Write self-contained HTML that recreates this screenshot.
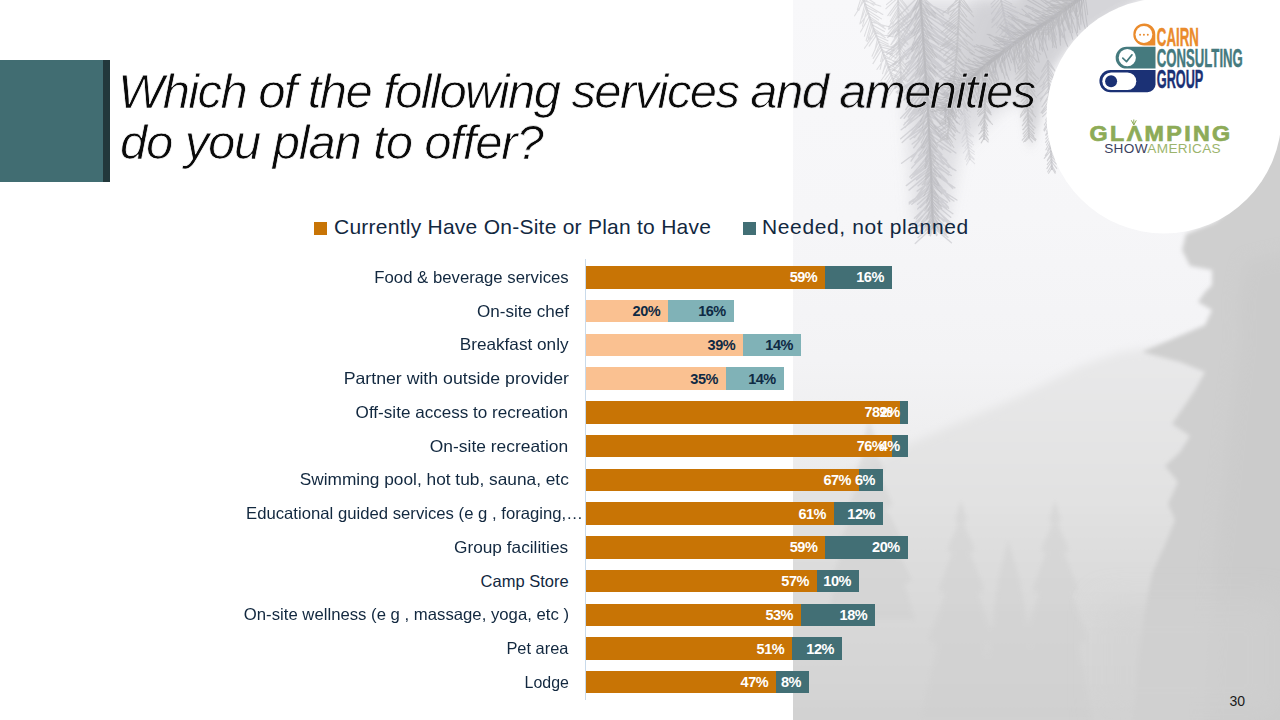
<!DOCTYPE html>
<html><head><meta charset="utf-8"><title>Services and amenities</title>
<style>
html,body{margin:0;padding:0}
body{width:1280px;height:720px;position:relative;overflow:hidden;background:#fff;font-family:"Liberation Sans",sans-serif}
#bg{position:absolute;left:793px;top:0;width:487px;height:720px;overflow:hidden}
#tblock{position:absolute;left:0;top:60px;width:103px;height:122px;background:#416D72}
#tstrip{position:absolute;left:103px;top:60px;width:7px;height:122px;background:#22383B}
.title{position:absolute;left:118px;font-style:italic;font-size:49px;line-height:60px;color:#0A0A0A;white-space:nowrap;letter-spacing:-1.6px;-webkit-text-stroke:0.75px #fff}
.bar{position:absolute;height:22.4px}
.lab{position:absolute;transform-origin:100% 50%;font-size:16.5px;line-height:20px;color:#12283F;white-space:nowrap;text-align:right}
.dl{position:absolute;width:60px;text-align:right;font-weight:bold;font-size:14.5px;line-height:16px;white-space:nowrap;letter-spacing:-0.5px}
#axis{position:absolute;left:585px;top:259px;width:1px;height:441px;background:#C9DAEA}
.leg{position:absolute;font-size:21px;line-height:26px;color:#12283F;white-space:nowrap;letter-spacing:0.25px}
.sq{position:absolute;width:13px;height:13px}
#pn{position:absolute;left:1229.5px;top:692.65px;font-size:14px;line-height:16px;color:#1a1a1a}
</style></head><body>
<div id="bg"><svg style="position:absolute;left:0;top:0" width="487" height="720" viewBox="793 0 487 720">
<defs>
<linearGradient id="gv" x1="0" y1="0" x2="0" y2="720" gradientUnits="userSpaceOnUse">
<stop offset="0" stop-color="#F8F8FA"/>
<stop offset="0.30" stop-color="#F6F6F8"/>
<stop offset="0.50" stop-color="#F3F3F5"/>
<stop offset="0.62" stop-color="#EEEEEF"/>
<stop offset="0.75" stop-color="#E4E4E4"/>
<stop offset="0.88" stop-color="#DADADA"/>
<stop offset="1" stop-color="#D3D3D3"/>
</linearGradient>
<linearGradient id="gm" x1="0" y1="340" x2="0" y2="720" gradientUnits="userSpaceOnUse">
<stop offset="0" stop-color="#E9E9EA"/>
<stop offset="0.45" stop-color="#E1E1E1"/>
<stop offset="0.7" stop-color="#D9D9D9"/>
<stop offset="1" stop-color="#D2D2D2"/>
</linearGradient>
<filter id="b8" x="-50%" y="-50%" width="200%" height="200%"><feGaussianBlur stdDeviation="8"/></filter>
<filter id="b5" x="-50%" y="-50%" width="200%" height="200%"><feGaussianBlur stdDeviation="5"/></filter>
<filter id="b2" x="-20%" y="-20%" width="140%" height="140%"><feGaussianBlur stdDeviation="2"/></filter>
<filter id="b1" x="-20%" y="-20%" width="140%" height="140%"><feGaussianBlur stdDeviation="0.6"/></filter>
<filter id="b15" x="-50%" y="-50%" width="200%" height="200%"><feGaussianBlur stdDeviation="15"/></filter>
</defs>
<rect x="793" y="0" width="487" height="720" fill="url(#gv)"/>
<!-- mountain haze -->
<path d="M780 492 L850 472 L900 448 L960 422 L1020 396 L1080 366 L1120 352 L1160 346 L1230 356 L1230 730 L780 730 Z" fill="url(#gm)" filter="url(#b5)"/>
<!-- mid trees -->
<g fill="#CFCFCF" filter="url(#b2)" opacity="0.45">
<path d="M869 420 L876 440 L873 445 L884 470 L879 474 L893 505 L886 508 L902 540 L894 544 L912 580 L905 585 L915 620 L825 620 L836 585 L830 580 L846 544 L840 540 L855 508 L849 505 L862 474 L857 470 L866 445 L863 440 Z"/>
<path d="M961 500 L967 520 L964 524 L975 550 L970 553 L985 590 L978 594 L995 640 L985 645 L1000 720 L920 720 L937 645 L928 640 L945 594 L938 590 L952 553 L947 550 L958 524 L955 520 Z"/>
<path d="M1055 500 L1061 520 L1058 524 L1069 550 L1064 553 L1079 590 L1072 594 L1089 640 L1079 645 L1094 720 L1014 720 L1031 645 L1022 640 L1039 594 L1032 590 L1046 553 L1041 550 L1052 524 L1049 520 Z"/>
<path d="M1008 540 L1020 580 L1030 640 L1040 720 L975 720 L990 640 L998 580 Z"/>
</g>
<!-- big right tree -->
<path d="M1300 90 L1280 110 L1266 150 L1245 195 L1215 222 L1186 234 L1182 250 L1190 266 L1212 270 L1212 285 L1205 292 L1198 302 L1212 310 L1205 325 L1170 340 L1142 352 L1180 362 L1205 372 L1195 390 L1185 405 L1172 424 L1190 436 L1180 452 L1165 466 L1178 482 L1168 504 L1175 520 L1165 545 L1158 560 L1152 574 L1145 610 L1138 660 L1132 740 L1300 740 Z" fill="#CFCFCF" filter="url(#b2)"/>
<path d="M1300 250 L1245 262 L1238 300 L1240 340 L1232 400 L1225 470 L1215 560 L1205 740 L1300 740 Z" fill="#C8C8C8" opacity="0.5" filter="url(#b8)"/>
<rect x="1100" y="600" width="180" height="120" fill="#D2D2D2" opacity="0.5" filter="url(#b15)"/>
<!-- top dense mass -->
<g fill="#DCDCE0" filter="url(#b8)" opacity="0.9">
<path d="M900 0 L1085 0 L1060 40 L1040 90 L1000 110 L960 150 L945 225 L915 225 L905 100 Z"/>
</g>
<g fill="#CFCFD3" filter="url(#b8)" opacity="0.8">
<path d="M975 0 L1085 0 L1060 30 L1030 60 L990 90 L960 110 L955 60 Z"/>
</g>
<path d="M1020 -10 L1160 -10 L1120 12 L1080 35 L1050 70 L1040 120 L1030 150 L1015 60 Z" fill="#D2D2D6" filter="url(#b5)" opacity="0.9"/>
<g filter="url(#b1)">
<path d="M920.0 -5.0 L924.0 50.0 L928.0 110.0 L931.0 170.0 L933.0 228.0" stroke="#C0C0C4" stroke-width="2.0" fill="none" opacity="0.55"/>
<path d="M920.0 -5.0 l-22.0 22.1 M920.0 -5.0 l23.6 20.5 M920.2 -2.5 l-22.4 34.0 M920.2 -2.5 l26.5 31.0 M920.4 0.2 l-19.1 24.9 M920.4 0.2 l28.2 13.7 M920.6 2.6 l-31.2 33.2 M920.6 2.6 l37.5 25.8 M920.7 4.6 l-32.1 24.5 M920.7 4.6 l32.1 24.5 M920.9 7.3 l-22.6 34.3 M920.9 7.3 l35.0 21.5 M921.1 9.7 l-17.1 26.8 M921.1 9.7 l27.8 15.5 M921.2 12.1 l-33.4 25.2 M921.2 12.1 l35.2 22.6 M921.4 14.9 l-26.2 21.2 M921.4 14.9 l26.1 21.3 M921.7 17.7 l-25.4 37.3 M921.7 17.7 l31.0 32.8 M921.8 19.8 l-31.6 34.8 M921.8 19.8 l38.6 26.8 M922.0 22.0 l-23.6 27.0 M922.0 22.0 l26.9 23.7 M922.1 24.5 l-30.2 22.3 M922.1 24.5 l31.3 20.7 M922.4 27.3 l-36.1 24.7 M922.4 27.3 l36.3 24.3 M922.5 29.4 l-35.7 25.0 M922.5 29.4 l38.4 20.5 M922.7 31.9 l-24.0 31.9 M922.7 31.9 l34.6 19.9 M922.9 34.3 l-16.4 24.9 M922.9 34.3 l26.0 14.6 M923.1 37.2 l-19.5 15.8 M923.1 37.2 l19.2 16.1 M923.2 39.2 l-22.8 18.9 M923.2 39.2 l26.0 14.3 M923.4 41.2 l-20.0 30.9 M923.4 41.2 l31.0 19.8 M923.5 43.4 l-35.1 24.3 M923.5 43.4 l33.8 26.1 M923.7 46.3 l-16.4 24.6 M923.7 46.3 l24.1 17.1 M923.9 48.2 l-17.9 20.1 M923.9 48.2 l22.0 15.5 M924.0 50.3 l-18.6 14.0 M924.0 50.3 l17.1 15.8 M924.2 53.1 l-27.8 31.7 M924.2 53.1 l32.7 26.6 M924.4 55.6 l-26.3 25.0 M924.4 55.6 l29.1 21.7 M924.5 58.1 l-29.8 30.5 M924.5 58.1 l32.7 27.3 M924.7 60.7 l-17.1 20.9 M924.7 60.7 l24.1 12.1 M924.9 63.1 l-18.0 28.3 M924.9 63.1 l25.6 21.7 M925.0 65.6 l-16.1 15.0 M925.0 65.6 l18.0 12.6 M925.2 67.5 l-24.0 25.4 M925.2 67.5 l29.0 19.5 M925.3 69.8 l-27.9 23.5 M925.3 69.8 l23.6 27.8 M925.5 71.8 l-29.3 20.3 M925.5 71.8 l25.5 24.8 M925.6 74.1 l-21.6 25.8 M925.6 74.1 l25.2 22.3 M925.8 76.3 l-20.9 19.8 M925.8 76.3 l21.0 19.6 M925.9 78.6 l-20.1 31.1 M925.9 78.6 l29.8 22.0 M926.1 81.2 l-16.6 21.6 M926.1 81.2 l23.3 14.0 M926.2 83.4 l-16.6 18.0 M926.2 83.4 l20.5 13.5 M926.4 85.4 l-17.5 20.7 M926.4 85.4 l23.5 13.7 M926.5 87.7 l-22.4 30.6 M926.5 87.7 l28.1 25.4 M926.7 90.3 l-26.1 28.0 M926.7 90.3 l27.1 26.9 M926.8 92.3 l-18.5 24.7 M926.8 92.3 l26.5 15.8 M927.0 95.0 l-14.9 18.5 M927.0 95.0 l20.4 12.2 M927.2 97.5 l-23.3 27.4 M927.2 97.5 l24.5 26.3 M927.3 99.7 l-22.2 27.7 M927.3 99.7 l26.5 23.7 M927.5 102.0 l-18.7 20.8 M927.5 102.0 l24.7 13.2 M927.6 104.1 l-16.1 11.3 M927.6 104.1 l17.2 9.6 M927.8 107.0 l-22.8 16.0 M927.8 107.0 l24.6 13.1 M927.9 109.1 l-26.7 20.6 M927.9 109.1 l27.9 19.0 M928.1 111.5 l-16.3 18.6 M928.1 111.5 l17.3 17.7 M928.2 113.5 l-19.5 23.2 M928.2 113.5 l25.8 15.9 M928.3 115.5 l-27.6 23.3 M928.3 115.5 l31.6 17.5 M928.4 118.2 l-26.2 24.4 M928.4 118.2 l22.6 27.8 M928.5 120.9 l-14.2 16.7 M928.5 120.9 l17.9 12.6 M928.7 123.3 l-21.7 14.8 M928.7 123.3 l21.1 15.6 M928.8 125.5 l-18.7 13.7 M928.8 125.5 l17.8 14.8 M928.9 128.2 l-15.2 19.6 M928.9 128.2 l19.5 15.4 M929.0 130.9 l-16.8 13.1 M929.0 130.9 l18.6 10.3 M929.2 133.6 l-18.1 27.5 M929.2 133.6 l26.6 19.4 M929.3 136.3 l-12.0 14.5 M929.3 136.3 l13.4 13.2 M929.4 138.8 l-17.7 18.1 M929.4 138.8 l21.4 13.6 M929.5 140.7 l-11.0 15.1 M929.5 140.7 l12.5 13.9 M929.6 142.7 l-28.0 20.6 M929.6 142.7 l22.8 26.2 M929.8 145.1 l-15.0 17.4 M929.8 145.1 l16.9 15.6 M929.9 147.6 l-18.3 20.5 M929.9 147.6 l18.9 20.0 M930.0 149.8 l-14.0 13.3 M930.0 149.8 l16.1 10.8 M930.1 152.1 l-11.2 14.7 M930.1 152.1 l13.7 12.4 M930.2 154.6 l-20.4 22.4 M930.2 154.6 l25.7 16.0 M930.4 157.1 l-16.2 17.9 M930.4 157.1 l18.7 15.3 M930.5 159.7 l-18.1 15.3 M930.5 159.7 l18.2 15.3 M930.6 161.9 l-19.5 16.5 M930.6 161.9 l16.6 19.4 M930.7 164.2 l-19.1 13.7 M930.7 164.2 l20.6 11.3 M930.8 166.5 l-24.5 19.1 M930.8 166.5 l22.0 21.9 M930.9 168.8 l-14.5 11.1 M930.9 168.8 l14.9 10.5 M931.1 171.6 l-22.1 18.5 M931.1 171.6 l23.8 16.3 M931.1 174.1 l-13.1 11.8 M931.1 174.1 l10.9 13.9 M931.2 176.1 l-16.2 23.0 M931.2 176.1 l18.2 21.5 M931.3 178.1 l-18.4 23.3 M931.3 178.1 l18.5 23.2 M931.4 180.9 l-14.2 10.2 M931.4 180.9 l14.2 10.3 M931.5 183.6 l-22.4 20.3 M931.5 183.6 l25.4 16.4 M931.5 185.5 l-19.7 18.8 M931.5 185.5 l22.3 15.5 M931.6 187.6 l-22.3 14.8 M931.6 187.6 l17.0 20.6 M931.7 189.8 l-19.2 14.0 M931.7 189.8 l16.4 17.1 M931.8 191.9 l-14.2 12.4 M931.8 191.9 l15.6 10.5 M931.8 194.2 l-14.1 14.8 M931.8 194.2 l14.8 14.1 M931.9 196.5 l-11.6 11.1 M931.9 196.5 l14.1 7.7 M932.0 198.8 l-15.8 20.3 M932.0 198.8 l20.9 14.9 M932.1 201.5 l-17.7 16.8 M932.1 201.5 l18.6 15.8 M932.2 204.0 l-16.7 21.7 M932.2 204.0 l17.7 20.9 M932.3 206.6 l-19.9 18.9 M932.3 206.6 l20.6 18.1 M932.4 209.2 l-10.9 12.8 M932.4 209.2 l11.4 12.3 M932.4 211.7 l-11.8 14.2 M932.4 211.7 l15.0 10.7 M932.5 214.6 l-14.0 11.3 M932.5 214.6 l13.4 12.1 M932.6 217.3 l-14.1 16.6 M932.6 217.3 l14.9 15.9 M932.7 219.2 l-13.8 14.7 M932.7 219.2 l13.5 15.0 M932.8 221.5 l-14.2 10.9 M932.8 221.5 l11.8 13.4 M932.9 224.4 l-14.8 13.2 M932.9 224.4 l15.0 12.9 M933.0 227.1 l-17.8 16.3 M933.0 227.1 l18.4 15.7" stroke="#C0C0C4" stroke-width="1.4" fill="none" opacity="0.55" stroke-linecap="round"/>
<path d="M920.0 -5.0 L924.0 50.0 L928.0 110.0 L931.0 170.0 L933.0 228.0" stroke="#B8B8BC" stroke-width="2.0" fill="none" opacity="0.5"/>
<path d="M920.0 -5.0 l-9.8 22.5 M920.0 -5.0 l15.7 18.8 M920.3 -1.5 l-6.4 18.1 M920.3 -1.5 l9.0 17.0 M920.5 1.8 l-13.1 17.5 M920.5 1.8 l14.8 16.0 M920.7 4.5 l-5.3 14.5 M920.7 4.5 l6.9 13.8 M920.9 7.7 l-13.9 19.5 M920.9 7.7 l11.3 21.1 M921.2 11.1 l-6.8 15.3 M921.2 11.1 l10.7 12.9 M921.4 13.6 l-7.7 11.5 M921.4 13.6 l6.8 12.1 M921.6 16.5 l-10.0 17.3 M921.6 16.5 l7.6 18.5 M921.8 19.3 l-7.8 16.3 M921.8 19.3 l8.3 16.1 M922.0 22.4 l-9.6 22.5 M922.0 22.4 l14.1 20.0 M922.2 24.9 l-7.9 13.7 M922.2 24.9 l6.7 14.4 M922.4 28.3 l-6.6 22.6 M922.4 28.3 l16.6 16.7 M922.6 31.2 l-11.5 18.4 M922.6 31.2 l10.6 19.0 M922.9 34.4 l-11.0 16.9 M922.9 34.4 l9.6 17.7 M923.1 37.7 l-11.9 20.6 M923.1 37.7 l13.6 19.4 M923.3 40.2 l-6.8 16.6 M923.3 40.2 l11.4 13.9 M923.5 43.4 l-5.8 17.8 M923.5 43.4 l11.4 14.8 M923.8 46.6 l-8.1 11.4 M923.8 46.6 l8.6 11.0 M923.9 49.1 l-6.8 21.8 M923.9 49.1 l11.4 19.7 M924.2 52.4 l-8.6 16.6 M924.2 52.4 l11.4 14.9 M924.4 55.3 l-4.8 14.5 M924.4 55.3 l6.1 14.0 M924.6 58.6 l-9.3 18.0 M924.6 58.6 l12.9 15.6 M924.8 61.4 l-5.8 13.3 M924.8 61.4 l9.9 10.7 M924.9 63.8 l-5.9 16.1 M924.9 63.8 l11.1 13.1 M925.1 66.6 l-6.1 13.8 M925.1 66.6 l8.6 12.4 M925.3 70.0 l-8.6 12.6 M925.3 70.0 l6.3 13.9 M925.5 72.7 l-3.6 11.8 M925.5 72.7 l8.0 9.4 M925.7 76.0 l-4.2 12.5 M925.7 76.0 l6.9 11.2 M925.9 79.2 l-10.7 17.0 M925.9 79.2 l11.8 16.2 M926.1 81.8 l-4.9 14.5 M926.1 81.8 l8.7 12.6 M926.3 84.9 l-4.5 12.3 M926.3 84.9 l8.5 9.9 M926.5 87.3 l-11.4 15.9 M926.5 87.3 l13.7 13.9 M926.7 90.2 l-7.9 14.7 M926.7 90.2 l10.0 13.3 M926.9 93.7 l-6.5 16.7 M926.9 93.7 l12.1 13.3 M927.1 96.7 l-8.9 14.4 M927.1 96.7 l6.3 15.7 M927.3 100.0 l-7.6 15.7 M927.3 100.0 l9.8 14.4 M927.5 103.0 l-5.6 11.1 M927.5 103.0 l4.8 11.5 M927.7 106.0 l-7.2 15.4 M927.7 106.0 l9.9 13.9 M928.0 109.5 l-5.8 18.5 M928.0 109.5 l12.7 14.7 M928.1 112.6 l-4.3 9.8 M928.1 112.6 l4.8 9.6 M928.3 115.1 l-9.5 12.3 M928.3 115.1 l7.4 13.6 M928.4 118.6 l-5.3 16.1 M928.4 118.6 l11.2 12.7 M928.6 121.7 l-10.2 16.2 M928.6 121.7 l11.9 15.0 M928.7 124.5 l-10.8 14.1 M928.7 124.5 l11.8 13.3 M928.9 127.4 l-7.7 15.4 M928.9 127.4 l6.9 15.8 M929.0 129.9 l-3.6 9.9 M929.0 129.9 l4.4 9.5 M929.1 132.9 l-7.7 14.5 M929.1 132.9 l8.4 14.1 M929.3 136.0 l-5.5 11.2 M929.3 136.0 l7.9 9.7 M929.4 138.9 l-6.7 9.0 M929.4 138.9 l6.9 8.8 M929.6 141.8 l-6.0 11.4 M929.6 141.8 l7.4 10.6 M929.7 144.4 l-3.2 8.8 M929.7 144.4 l6.0 7.2 M929.8 147.0 l-4.6 12.8 M929.8 147.0 l5.9 12.2 M930.0 149.6 l-4.3 12.2 M930.0 149.6 l4.7 12.0 M930.1 152.1 l-4.8 9.5 M930.1 152.1 l4.1 9.9 M930.2 154.5 l-5.5 11.9 M930.2 154.5 l8.1 10.4 M930.4 157.0 l-5.3 11.5 M930.4 157.0 l4.6 11.8 M930.5 160.6 l-3.3 10.4 M930.5 160.6 l5.8 9.2 M930.7 163.2 l-5.7 13.2 M930.7 163.2 l5.8 13.2 M930.8 165.6 l-5.6 14.1 M930.8 165.6 l9.7 11.7 M930.9 168.6 l-6.4 15.6 M930.9 168.6 l7.6 15.1 M931.0 171.3 l-8.1 13.5 M931.0 171.3 l7.4 13.8 M931.1 173.8 l-9.2 11.2 M931.1 173.8 l8.1 12.0 M931.2 176.2 l-2.7 8.4 M931.2 176.2 l3.6 8.0 M931.3 178.6 l-4.7 7.6 M931.3 178.6 l5.9 6.7 M931.4 181.3 l-7.6 14.7 M931.4 181.3 l10.5 12.8 M931.5 184.8 l-4.7 15.4 M931.5 184.8 l7.4 14.3 M931.6 187.9 l-5.0 15.2 M931.6 187.9 l7.3 14.3 M931.7 191.3 l-3.9 8.2 M931.7 191.3 l4.3 8.0 M931.8 194.5 l-5.4 14.6 M931.8 194.5 l9.5 12.3 M932.0 197.8 l-7.2 12.8 M932.0 197.8 l9.8 10.9 M932.1 200.6 l-4.1 10.4 M932.1 200.6 l7.0 8.7 M932.2 203.6 l-3.4 9.3 M932.2 203.6 l6.0 7.9 M932.3 206.7 l-5.7 12.0 M932.3 206.7 l7.0 11.3 M932.4 209.3 l-3.7 12.6 M932.4 209.3 l6.8 11.2 M932.5 212.6 l-4.0 12.1 M932.5 212.6 l5.5 11.5 M932.6 216.0 l-7.4 9.8 M932.6 216.0 l8.1 9.3 M932.7 219.0 l-7.8 11.7 M932.7 219.0 l6.6 12.4 M932.8 221.8 l-3.4 7.1 M932.8 221.8 l5.4 5.8 M932.9 224.4 l-3.7 10.8 M932.9 224.4 l4.3 10.6 M933.0 227.5 l-2.6 8.5 M933.0 227.5 l3.6 8.2" stroke="#B8B8BC" stroke-width="1.1" fill="none" opacity="0.5" stroke-linecap="round"/>
<path d="M960.0 -5.0 L957.0 50.0 L952.0 100.0 L947.0 140.0" stroke="#BEBEC2" stroke-width="2.0" fill="none" opacity="0.6"/>
<path d="M960.0 -5.0 l-12.4 16.8 M960.0 -5.0 l12.1 17.1 M959.8 -1.7 l-12.1 10.3 M959.8 -1.7 l10.2 12.2 M959.6 1.4 l-16.9 11.8 M959.6 1.4 l14.0 15.2 M959.5 3.9 l-9.3 11.8 M959.5 3.9 l11.5 9.7 M959.4 6.2 l-11.1 6.6 M959.4 6.2 l7.4 10.6 M959.2 9.5 l-10.0 9.2 M959.2 9.5 l7.8 11.1 M959.0 12.6 l-15.6 12.4 M959.0 12.6 l14.8 13.3 M958.9 15.8 l-12.7 10.4 M958.9 15.8 l10.7 12.4 M958.7 18.2 l-17.0 14.1 M958.7 18.2 l16.8 14.4 M958.6 20.7 l-13.5 12.5 M958.6 20.7 l13.5 12.4 M958.5 23.0 l-11.8 10.7 M958.5 23.0 l8.3 13.5 M958.3 25.9 l-14.6 14.0 M958.3 25.9 l14.4 14.2 M958.2 28.8 l-9.8 10.0 M958.2 28.8 l11.3 8.3 M958.0 31.4 l-10.1 12.8 M958.0 31.4 l9.4 13.3 M957.9 33.8 l-17.5 12.9 M957.9 33.8 l16.9 13.7 M957.7 37.1 l-15.3 9.4 M957.7 37.1 l12.2 13.2 M957.6 39.8 l-18.1 11.4 M957.6 39.8 l17.0 13.0 M957.4 42.6 l-13.8 13.4 M957.4 42.6 l15.5 11.4 M957.2 45.9 l-11.8 7.2 M957.2 45.9 l7.8 11.4 M957.1 48.2 l-12.5 13.3 M957.1 48.2 l12.3 13.4 M956.9 51.2 l-9.0 6.0 M956.9 51.2 l6.0 9.0 M956.6 53.9 l-11.5 7.6 M956.6 53.9 l9.8 9.7 M956.4 56.4 l-8.0 7.8 M956.4 56.4 l6.8 8.9 M956.1 58.8 l-9.7 6.3 M956.1 58.8 l8.1 8.3 M955.8 62.1 l-16.9 9.9 M955.8 62.1 l11.6 15.8 M955.6 64.5 l-9.8 8.3 M955.6 64.5 l8.2 9.8 M955.3 67.3 l-11.2 6.7 M955.3 67.3 l7.3 10.8 M955.0 70.1 l-15.2 9.5 M955.0 70.1 l10.1 14.8 M954.7 72.6 l-10.6 13.1 M954.7 72.6 l8.6 14.6 M954.5 75.4 l-9.6 10.4 M954.5 75.4 l6.8 12.4 M954.2 77.8 l-12.3 10.4 M954.2 77.8 l12.5 10.2 M953.9 80.9 l-11.3 13.6 M953.9 80.9 l9.3 15.0 M953.7 83.2 l-9.2 8.7 M953.7 83.2 l6.0 11.1 M953.4 86.0 l-6.9 6.6 M953.4 86.0 l5.2 7.9 M953.1 89.1 l-8.6 8.6 M953.1 89.1 l5.7 10.6 M952.8 91.9 l-11.2 7.9 M952.8 91.9 l10.3 8.9 M952.5 95.0 l-6.9 7.6 M952.5 95.0 l7.3 7.2 M952.2 98.1 l-10.4 6.3 M952.2 98.1 l7.9 9.3 M951.9 100.6 l-6.0 7.1 M951.9 100.6 l6.1 7.0 M951.5 103.9 l-11.6 9.3 M951.5 103.9 l9.9 11.1 M951.1 107.1 l-11.3 8.0 M951.1 107.1 l8.1 11.2 M950.8 109.9 l-6.2 6.3 M950.8 109.9 l5.9 6.5 M950.3 113.2 l-8.7 7.3 M950.3 113.2 l6.4 9.4 M950.0 116.0 l-10.1 8.2 M950.0 116.0 l9.8 8.5 M949.7 118.4 l-7.4 5.6 M949.7 118.4 l5.4 7.6 M949.3 121.5 l-11.2 5.8 M949.3 121.5 l8.2 9.6 M949.0 123.8 l-8.6 6.4 M949.0 123.8 l6.5 8.5 M948.7 126.3 l-10.1 5.4 M948.7 126.3 l5.4 10.1 M948.3 129.3 l-7.1 5.5 M948.3 129.3 l6.6 6.1 M947.9 132.6 l-7.4 7.4 M947.9 132.6 l7.8 7.0 M947.6 135.0 l-7.5 4.3 M947.6 135.0 l4.8 7.2 M947.3 137.5 l-10.6 5.5 M947.3 137.5 l6.6 10.0" stroke="#BEBEC2" stroke-width="1.1" fill="none" opacity="0.6" stroke-linecap="round"/>
<path d="M862.0 -5.0 L874.0 30.0 L886.0 60.0 L896.0 88.0" stroke="#C8C8CC" stroke-width="2.0" fill="none" opacity="0.55"/>
<path d="M862.0 -5.0 l-4.6 14.7 M862.0 -5.0 l13.0 8.2 M863.2 -1.6 l-4.3 12.0 M863.2 -1.6 l10.6 7.0 M864.0 0.7 l-9.4 15.1 M864.0 0.7 l16.9 5.5 M865.0 3.7 l-5.1 20.2 M865.0 3.7 l17.8 10.8 M866.1 7.1 l-4.2 11.2 M866.1 7.1 l10.7 5.4 M867.0 9.7 l-4.5 16.5 M867.0 9.7 l14.4 9.2 M868.2 13.0 l-7.3 10.1 M868.2 13.0 l10.3 6.9 M869.3 16.4 l-8.8 15.5 M869.3 16.4 l14.6 10.1 M870.1 18.8 l-5.8 17.5 M870.1 18.8 l15.4 10.2 M871.2 22.0 l-5.1 18.6 M871.2 22.0 l18.6 5.0 M872.2 24.8 l-4.0 13.4 M872.2 24.8 l12.2 6.7 M873.4 28.2 l-3.7 12.1 M873.4 28.2 l10.4 7.2 M874.3 30.6 l-7.2 11.0 M874.3 30.6 l11.0 7.2 M875.2 33.1 l-10.7 15.2 M875.2 33.1 l18.2 3.8 M876.2 35.6 l-7.1 10.5 M876.2 35.6 l11.7 5.1 M877.4 38.6 l-2.5 11.8 M877.4 38.6 l10.8 5.5 M878.7 41.6 l-6.7 14.6 M878.7 41.6 l14.6 6.5 M879.8 44.5 l-5.2 11.6 M879.8 44.5 l12.3 3.3 M880.8 46.9 l-7.6 11.5 M880.8 46.9 l13.3 3.5 M881.7 49.4 l-8.7 14.2 M881.7 49.4 l14.3 8.6 M882.8 51.9 l-2.2 9.8 M882.8 51.9 l9.8 2.0 M883.8 54.6 l-3.7 14.8 M883.8 54.6 l12.5 8.7 M885.1 57.8 l-8.2 11.7 M885.1 57.8 l13.5 4.6 M886.2 60.6 l-3.7 13.2 M886.2 60.6 l12.5 5.7 M887.2 63.3 l-4.0 7.7 M887.2 63.3 l7.6 4.3 M888.2 66.2 l-3.6 9.5 M888.2 66.2 l8.9 4.9 M889.3 69.1 l-8.4 11.6 M889.3 69.1 l13.7 4.1 M890.4 72.3 l-5.4 7.2 M890.4 72.3 l7.7 4.6 M891.3 74.7 l-5.3 8.8 M891.3 74.7 l9.0 5.0 M892.3 77.7 l-5.1 6.9 M892.3 77.7 l7.6 3.8 M893.3 80.5 l-5.6 8.2 M893.3 80.5 l9.6 2.3 M894.3 83.4 l-4.3 8.0 M894.3 83.4 l7.4 5.3 M895.3 86.1 l-6.0 9.6 M895.3 86.1 l9.2 6.6" stroke="#C8C8CC" stroke-width="1.1" fill="none" opacity="0.55" stroke-linecap="round"/>
<path d="M898.0 -5.0 L899.0 40.0 L901.0 80.0" stroke="#C8C8CC" stroke-width="2.0" fill="none" opacity="0.55"/>
<path d="M898.0 -5.0 l-11.5 9.6 M898.0 -5.0 l9.2 11.8 M898.1 -2.3 l-12.2 11.0 M898.1 -2.3 l10.5 12.7 M898.1 1.1 l-10.3 14.5 M898.1 1.1 l10.6 14.3 M898.2 4.1 l-8.3 11.6 M898.2 4.1 l10.1 10.1 M898.3 7.6 l-8.0 13.7 M898.3 7.6 l9.0 13.1 M898.3 10.4 l-7.9 13.7 M898.3 10.4 l8.2 13.6 M898.4 13.2 l-5.7 11.0 M898.4 13.2 l8.3 9.2 M898.5 16.7 l-10.1 10.3 M898.5 16.7 l10.9 9.5 M898.6 20.1 l-10.7 14.0 M898.6 20.1 l12.6 12.3 M898.6 22.6 l-9.9 13.8 M898.6 22.6 l11.1 12.9 M898.7 26.1 l-5.9 9.7 M898.7 26.1 l8.6 7.4 M898.8 29.2 l-4.3 8.3 M898.8 29.2 l5.7 7.4 M898.8 31.6 l-8.0 13.3 M898.8 31.6 l9.1 12.6 M898.9 34.5 l-7.6 10.0 M898.9 34.5 l8.8 9.0 M898.9 37.7 l-5.6 10.2 M898.9 37.7 l9.3 7.0 M899.0 40.9 l-5.0 6.9 M899.0 40.9 l6.4 5.6 M899.2 44.5 l-3.5 7.4 M899.2 44.5 l5.5 6.0 M899.4 47.4 l-10.0 10.0 M899.4 47.4 l8.9 11.0 M899.5 50.3 l-8.3 8.0 M899.5 50.3 l6.7 9.4 M899.7 53.2 l-5.0 5.9 M899.7 53.2 l4.0 6.6 M899.8 56.7 l-6.6 8.2 M899.8 56.7 l5.7 8.8 M900.0 59.4 l-7.1 6.9 M900.0 59.4 l6.8 7.1 M900.1 62.1 l-8.5 9.8 M900.1 62.1 l8.9 9.4 M900.2 64.7 l-6.0 5.7 M900.2 64.7 l4.6 6.9 M900.4 67.8 l-5.5 8.3 M900.4 67.8 l7.6 6.5 M900.6 71.3 l-7.5 8.1 M900.6 71.3 l6.5 9.0 M900.7 73.7 l-4.5 7.0 M900.7 73.7 l4.8 6.8 M900.9 77.2 l-4.8 4.8 M900.9 77.2 l5.4 4.0 M901.0 79.7 l-5.9 8.5 M901.0 79.7 l6.1 8.4" stroke="#C8C8CC" stroke-width="1.1" fill="none" opacity="0.55" stroke-linecap="round"/>
<path d="M1085.0 -5.0 L1050.0 20.0 L1019.0 40.0 L990.0 62.0 L967.0 82.0 L945.0 110.0" stroke="#B8B8BD" stroke-width="4" fill="none" opacity="0.65"/>
<path d="M1085.0 -5.0 l-17.4 -9.8 M1085.0 -5.0 l2.7 19.7 M1083.0 -3.5 l-33.1 -11.3 M1083.0 -3.5 l5.0 34.6 M1081.2 -2.3 l-20.5 -8.9 M1081.2 -2.3 l1.9 22.2 M1079.3 -0.9 l-23.7 -8.7 M1079.3 -0.9 l1.7 25.2 M1077.6 0.3 l-26.9 -11.6 M1077.6 0.3 l7.7 28.3 M1076.0 1.4 l-26.4 -16.5 M1076.0 1.4 l1.5 31.1 M1074.0 2.8 l-22.2 -13.0 M1074.0 2.8 l5.7 25.1 M1072.1 4.2 l-25.1 -8.5 M1072.1 4.2 l7.9 25.3 M1070.1 5.7 l-23.2 -14.1 M1070.1 5.7 l2.4 27.1 M1068.0 7.1 l-28.1 -11.8 M1068.0 7.1 l9.5 29.0 M1065.9 8.7 l-18.1 -16.0 M1065.9 8.7 l4.3 23.8 M1064.3 9.8 l-27.7 -13.2 M1064.3 9.8 l8.5 29.5 M1062.5 11.1 l-17.0 -9.9 M1062.5 11.1 l6.4 18.6 M1060.7 12.4 l-21.3 -16.8 M1060.7 12.4 l4.4 26.8 M1058.9 13.6 l-22.1 -16.8 M1058.9 13.6 l1.6 27.7 M1057.4 14.7 l-26.4 -15.7 M1057.4 14.7 l3.1 30.5 M1055.3 16.2 l-28.1 -16.5 M1055.3 16.2 l12.3 30.1 M1053.3 17.6 l-27.3 -12.4 M1053.3 17.6 l-0.6 30.0 M1051.4 19.0 l-26.6 -12.9 M1051.4 19.0 l5.1 29.1 M1049.5 20.3 l-16.9 -12.7 M1049.5 20.3 l3.4 20.9 M1047.8 21.4 l-15.5 -10.3 M1047.8 21.4 l1.1 18.6 M1045.7 22.7 l-17.0 -9.7 M1045.7 22.7 l0.2 19.5 M1044.0 23.9 l-24.1 -10.1 M1044.0 23.9 l-1.3 26.1 M1042.1 25.1 l-16.7 -10.6 M1042.1 25.1 l-0.1 19.8 M1040.6 26.1 l-18.6 -16.9 M1040.6 26.1 l7.2 24.1 M1038.7 27.3 l-21.1 -8.4 M1038.7 27.3 l1.0 22.7 M1037.0 28.4 l-28.8 -12.2 M1037.0 28.4 l10.0 29.7 M1035.2 29.6 l-20.5 -10.2 M1035.2 29.6 l7.4 21.7 M1033.6 30.6 l-21.1 -13.4 M1033.6 30.6 l0.3 25.0 M1031.9 31.7 l-24.3 -19.8 M1031.9 31.7 l7.3 30.5 M1029.8 33.1 l-13.7 -10.4 M1029.8 33.1 l4.1 16.7 M1028.1 34.1 l-16.4 -15.6 M1028.1 34.1 l1.5 22.6 M1026.1 35.4 l-14.5 -10.6 M1026.1 35.4 l0.7 18.0 M1024.2 36.6 l-15.9 -13.8 M1024.2 36.6 l5.0 20.4 M1022.4 37.8 l-22.1 -13.0 M1022.4 37.8 l6.7 24.8 M1020.7 38.9 l-19.3 -13.1 M1020.7 38.9 l2.1 23.2 M1019.2 39.9 l-14.3 -10.2 M1019.2 39.9 l0.3 17.6 M1017.2 41.3 l-17.5 -14.0 M1017.2 41.3 l7.9 21.0 M1015.3 42.8 l-19.4 -5.9 M1015.3 42.8 l4.7 19.7 M1013.4 44.2 l-26.3 -9.9 M1013.4 44.2 l2.0 28.0 M1011.3 45.8 l-22.4 -11.6 M1011.3 45.8 l7.7 24.0 M1009.8 47.0 l-18.9 -11.7 M1009.8 47.0 l5.6 21.5 M1008.3 48.1 l-13.9 -8.3 M1008.3 48.1 l5.9 15.1 M1006.8 49.3 l-13.6 -4.4 M1006.8 49.3 l4.7 13.5 M1005.1 50.5 l-15.8 -13.1 M1005.1 50.5 l5.3 19.8 M1003.5 51.7 l-22.9 -6.5 M1003.5 51.7 l2.9 23.6 M1001.6 53.2 l-15.5 -4.6 M1001.6 53.2 l3.5 15.8 M1000.0 54.4 l-25.7 -8.5 M1000.0 54.4 l9.0 25.5 M998.3 55.7 l-22.0 -11.0 M998.3 55.7 l6.9 23.6 M996.7 56.9 l-14.8 -7.4 M996.7 56.9 l5.5 15.6 M995.1 58.2 l-14.9 -7.2 M995.1 58.2 l0.7 16.5 M993.4 59.4 l-18.3 -10.1 M993.4 59.4 l5.2 20.3 M991.8 60.6 l-13.0 -3.8 M991.8 60.6 l2.0 13.4 M990.3 61.8 l-19.0 -7.8 M990.3 61.8 l6.5 19.5 M988.6 63.3 l-18.7 -10.7 M988.6 63.3 l6.1 20.7 M986.9 64.7 l-16.4 -3.9 M986.9 64.7 l6.6 15.5 M985.3 66.1 l-11.6 -7.9 M985.3 66.1 l4.3 13.3 M983.5 67.6 l-17.5 -4.7 M983.5 67.6 l8.5 16.0 M982.1 68.9 l-13.9 -10.1 M982.1 68.9 l2.1 17.0 M980.4 70.3 l-17.5 -5.7 M980.4 70.3 l8.1 16.5 M978.8 71.7 l-11.4 -4.9 M978.8 71.7 l0.9 12.4 M977.0 73.3 l-18.9 -12.6 M977.0 73.3 l2.0 22.7 M975.3 74.8 l-14.4 -6.2 M975.3 74.8 l3.1 15.4 M973.7 76.1 l-12.1 -6.1 M973.7 76.1 l1.4 13.5 M971.8 77.9 l-10.1 -7.1 M971.8 77.9 l1.8 12.2 M970.4 79.1 l-18.6 -8.5 M970.4 79.1 l7.8 18.9 M968.7 80.5 l-18.3 -4.6 M968.7 80.5 l6.5 17.7 M967.0 82.0 l-22.0 -4.7 M967.0 82.0 l2.2 22.4 M965.6 83.8 l-21.4 -4.3 M965.6 83.8 l11.6 18.6 M964.2 85.6 l-15.3 -3.3 M964.2 85.6 l7.6 13.6 M963.1 87.0 l-13.8 -4.7 M963.1 87.0 l5.2 13.6 M961.7 88.7 l-13.7 -2.3 M961.7 88.7 l7.0 11.9 M960.2 90.6 l-20.8 -4.7 M960.2 90.6 l7.2 20.1 M959.0 92.2 l-11.3 -1.4 M959.0 92.2 l5.5 10.0 M957.6 94.0 l-13.2 -1.3 M957.6 94.0 l3.9 12.7 M956.4 95.5 l-15.7 -2.0 M956.4 95.5 l9.3 12.8 M955.0 97.3 l-13.7 -2.8 M955.0 97.3 l3.8 13.5 M953.5 99.2 l-17.8 -3.1 M953.5 99.2 l9.6 15.3 M952.3 100.8 l-12.4 -1.4 M952.3 100.8 l4.2 11.7 M950.8 102.6 l-15.7 -5.3 M950.8 102.6 l4.9 15.8 M949.3 104.5 l-14.5 -2.6 M949.3 104.5 l6.7 13.1 M948.0 106.2 l-11.6 -2.2 M948.0 106.2 l6.0 10.2 M946.5 108.0 l-18.5 -1.9 M946.5 108.0 l11.0 15.0 M945.0 110.0 l-14.9 -6.9 M945.0 110.0 l5.1 15.6" stroke="#B8B8BD" stroke-width="1.1" fill="none" opacity="0.65" stroke-linecap="round"/>
<path d="M1085.0 -5.0 L1050.0 20.0 L1019.0 40.0 L990.0 62.0 L967.0 82.0 L945.0 110.0" stroke="#B4B4B8" stroke-width="3" fill="none" opacity="0.55"/>
<path d="M1085.0 -5.0 l-22.5 3.8 M1085.0 -5.0 l-6.7 21.8 M1082.3 -3.1 l-15.3 -2.1 M1082.3 -3.1 l-2.6 15.2 M1080.1 -1.5 l-13.4 1.7 M1080.1 -1.5 l-2.7 13.3 M1077.9 0.1 l-15.5 0.5 M1077.9 0.1 l-2.5 15.3 M1075.8 1.5 l-11.7 -2.1 M1075.8 1.5 l-4.8 10.9 M1073.7 3.1 l-22.9 2.3 M1073.7 3.1 l-11.3 20.0 M1071.0 5.0 l-14.3 1.8 M1071.0 5.0 l-2.2 14.2 M1069.0 6.4 l-21.8 1.7 M1069.0 6.4 l-8.9 19.9 M1067.0 7.9 l-17.6 -0.3 M1067.0 7.9 l-6.6 16.3 M1064.7 9.5 l-14.6 -1.9 M1064.7 9.5 l-2.3 14.5 M1062.2 11.3 l-20.1 3.9 M1062.2 11.3 l-8.8 18.5 M1060.2 12.7 l-12.7 -2.4 M1060.2 12.7 l-2.2 12.7 M1057.5 14.6 l-17.1 2.9 M1057.5 14.6 l-6.3 16.1 M1055.6 16.0 l-20.9 2.3 M1055.6 16.0 l-8.7 19.1 M1053.0 17.9 l-13.0 -2.2 M1053.0 17.9 l-5.4 12.0 M1050.5 19.6 l-11.9 -1.9 M1050.5 19.6 l-4.5 11.2 M1048.3 21.1 l-17.8 -1.4 M1048.3 21.1 l-8.4 15.8 M1046.3 22.4 l-16.7 2.7 M1046.3 22.4 l-3.9 16.5 M1044.1 23.8 l-12.5 0.4 M1044.1 23.8 l-6.5 10.7 M1042.0 25.2 l-16.4 0.0 M1042.0 25.2 l-7.2 14.7 M1039.8 26.6 l-15.5 -2.4 M1039.8 26.6 l-6.3 14.4 M1037.2 28.3 l-15.4 1.9 M1037.2 28.3 l-7.8 13.4 M1034.5 30.0 l-15.4 0.2 M1034.5 30.0 l-5.7 14.3 M1031.8 31.7 l-14.2 0.3 M1031.8 31.7 l-6.1 12.8 M1029.9 32.9 l-15.8 -0.5 M1029.9 32.9 l-6.0 14.6 M1027.6 34.4 l-14.8 -1.9 M1027.6 34.4 l-7.4 13.0 M1024.8 36.2 l-11.0 -2.1 M1024.8 36.2 l-5.6 9.7 M1022.2 37.9 l-12.5 1.7 M1022.2 37.9 l-4.6 11.7 M1019.5 39.7 l-17.9 -3.6 M1019.5 39.7 l-3.4 18.0 M1017.7 41.0 l-13.3 2.7 M1017.7 41.0 l-2.8 13.3 M1015.5 42.7 l-17.0 -1.5 M1015.5 42.7 l-1.7 17.0 M1013.1 44.5 l-18.2 0.3 M1013.1 44.5 l-8.5 16.1 M1010.5 46.4 l-10.3 2.2 M1010.5 46.4 l-1.8 10.3 M1008.5 48.0 l-15.4 3.7 M1008.5 48.0 l-6.6 14.4 M1006.1 49.8 l-9.8 0.3 M1006.1 49.8 l-1.3 9.7 M1004.1 51.3 l-16.0 -1.0 M1004.1 51.3 l-4.1 15.5 M1001.6 53.2 l-15.4 3.8 M1001.6 53.2 l-6.7 14.3 M999.3 54.9 l-18.0 2.8 M999.3 54.9 l-4.9 17.5 M997.4 56.4 l-16.9 1.0 M997.4 56.4 l-5.0 16.2 M995.1 58.2 l-10.3 -0.6 M995.1 58.2 l-1.9 10.2 M992.5 60.1 l-11.4 1.7 M992.5 60.1 l-5.0 10.4 M989.9 62.1 l-12.7 1.9 M989.9 62.1 l-3.0 12.5 M987.7 64.0 l-11.5 2.0 M987.7 64.0 l-1.5 11.6 M985.3 66.1 l-10.9 3.2 M985.3 66.1 l-0.7 11.3 M983.0 68.1 l-13.7 2.0 M983.0 68.1 l-0.7 13.8 M980.9 69.9 l-10.1 2.8 M980.9 69.9 l-3.2 10.0 M978.7 71.8 l-11.6 -1.0 M978.7 71.8 l-2.1 11.5 M976.7 73.6 l-14.0 0.9 M976.7 73.6 l-2.7 13.8 M974.6 75.4 l-12.7 1.4 M974.6 75.4 l-1.3 12.7 M972.7 77.0 l-14.6 2.8 M972.7 77.0 l-1.5 14.8 M971.0 78.6 l-12.2 1.6 M971.0 78.6 l-1.9 12.1 M969.1 80.2 l-10.0 2.7 M969.1 80.2 l-2.2 10.1 M966.9 82.1 l-7.4 3.4 M966.9 82.1 l-1.5 8.0 M964.9 84.7 l-11.3 3.1 M964.9 84.7 l-1.7 11.6 M963.0 87.0 l-14.1 3.2 M963.0 87.0 l-3.8 13.9 M961.4 89.2 l-10.4 5.5 M961.4 89.2 l0.8 11.7 M959.8 91.2 l-9.8 2.4 M959.8 91.2 l-0.2 10.1 M958.0 93.4 l-13.8 4.1 M958.0 93.4 l-1.7 14.3 M956.6 95.2 l-11.2 4.1 M956.6 95.2 l-0.5 11.9 M955.0 97.3 l-6.8 3.6 M955.0 97.3 l-1.5 7.5 M953.5 99.2 l-13.5 3.6 M953.5 99.2 l-2.3 13.8 M951.6 101.5 l-10.9 5.6 M951.6 101.5 l0.6 12.2 M950.1 103.5 l-13.4 6.4 M950.1 103.5 l-2.1 14.7 M948.5 105.5 l-13.5 2.2 M948.5 105.5 l-0.3 13.7 M947.1 107.4 l-10.2 2.2 M947.1 107.4 l-2.5 10.1 M945.0 110.0 l-13.2 1.5 M945.0 110.0 l0.4 13.3" stroke="#B4B4B8" stroke-width="1.1" fill="none" opacity="0.55" stroke-linecap="round"/>
<path d="M1070.0 -5.0 L1060.0 15.0 L1048.0 35.0" stroke="#BCBCC0" stroke-width="2.0" fill="none" opacity="0.6"/>
<path d="M1070.0 -5.0 l-24.6 8.5 M1070.0 -5.0 l8.4 24.7 M1068.9 -2.9 l-15.1 1.7 M1068.9 -2.9 l3.6 14.8 M1067.6 -0.1 l-17.4 1.3 M1067.6 -0.1 l8.6 15.1 M1066.2 2.6 l-20.3 9.2 M1066.2 2.6 l6.8 21.2 M1065.0 4.9 l-16.6 2.7 M1065.0 4.9 l9.0 14.1 M1063.7 7.7 l-21.6 3.3 M1063.7 7.7 l7.5 20.5 M1062.4 10.2 l-19.1 2.0 M1062.4 10.2 l6.7 18.0 M1061.2 12.6 l-16.1 5.9 M1061.2 12.6 l9.2 14.4 M1060.2 14.6 l-16.5 4.1 M1060.2 14.6 l4.7 16.4 M1058.8 17.0 l-14.7 -0.5 M1058.8 17.0 l6.9 12.9 M1057.3 19.5 l-17.9 -0.1 M1057.3 19.5 l3.4 17.6 M1055.7 22.2 l-16.8 -0.8 M1055.7 22.2 l7.2 15.2 M1054.3 24.5 l-10.6 1.0 M1054.3 24.5 l2.2 10.4 M1052.7 27.2 l-13.2 0.3 M1052.7 27.2 l3.6 12.7 M1051.4 29.4 l-15.3 1.4 M1051.4 29.4 l4.3 14.7 M1049.9 31.9 l-11.0 1.1 M1049.9 31.9 l3.7 10.4 M1048.6 34.1 l-14.5 -0.1 M1048.6 34.1 l6.2 13.2" stroke="#BCBCC0" stroke-width="1.1" fill="none" opacity="0.6" stroke-linecap="round"/>
<path d="M1000.0 -5.0 L1005.0 20.0 L1012.0 45.0" stroke="#C0C0C4" stroke-width="2.0" fill="none" opacity="0.55"/>
<path d="M1000.0 -5.0 l-9.0 9.2 M1000.0 -5.0 l12.0 4.6 M1000.6 -1.9 l-8.9 9.2 M1000.6 -1.9 l11.2 6.0 M1001.2 0.9 l-9.9 12.9 M1001.2 0.9 l14.7 6.9 M1001.8 4.2 l-9.7 17.2 M1001.8 4.2 l17.5 8.9 M1002.5 7.6 l-10.4 12.1 M1002.5 7.6 l14.9 5.5 M1003.0 10.0 l-11.2 12.6 M1003.0 10.0 l15.0 7.5 M1003.5 12.7 l-7.3 12.8 M1003.5 12.7 l13.0 6.9 M1004.1 15.4 l-12.3 11.9 M1004.1 15.4 l14.9 8.4 M1004.7 18.6 l-7.5 9.2 M1004.7 18.6 l9.5 7.1 M1005.5 22.0 l-9.5 11.0 M1005.5 22.0 l12.0 8.2 M1006.5 25.2 l-4.7 6.5 M1006.5 25.2 l7.3 3.3 M1007.1 27.6 l-7.5 7.9 M1007.1 27.6 l10.2 4.0 M1007.9 30.3 l-6.9 11.6 M1007.9 30.3 l13.0 3.4 M1008.7 33.0 l-5.5 5.4 M1008.7 33.0 l6.3 4.4 M1009.4 35.6 l-5.2 11.1 M1009.4 35.6 l11.2 4.8 M1010.3 38.9 l-5.3 9.0 M1010.3 38.9 l10.0 3.3 M1011.2 42.2 l-6.0 7.9 M1011.2 42.2 l8.7 4.7 M1012.0 45.0 l-8.6 8.4 M1012.0 45.0 l9.6 7.1" stroke="#C0C0C4" stroke-width="1.1" fill="none" opacity="0.55" stroke-linecap="round"/>
<path d="M1026.0 40.0 L1027.0 80.0 L1028.0 115.0 L1029.0 138.0" stroke="#BEBEC2" stroke-width="2.0" fill="none" opacity="0.65"/>
<path d="M1026.0 40.0 l-9.1 9.6 M1026.0 40.0 l7.1 11.2 M1026.1 42.4 l-9.0 16.5 M1026.1 42.4 l14.6 11.9 M1026.1 45.2 l-13.9 14.3 M1026.1 45.2 l10.7 16.8 M1026.2 48.3 l-7.3 12.6 M1026.2 48.3 l7.0 12.8 M1026.3 51.3 l-8.3 13.4 M1026.3 51.3 l11.6 10.7 M1026.3 53.8 l-6.5 12.9 M1026.3 53.8 l8.4 11.7 M1026.4 57.0 l-6.9 12.9 M1026.4 57.0 l8.0 12.3 M1026.5 60.0 l-8.8 8.5 M1026.5 60.0 l5.9 10.7 M1026.6 63.2 l-10.6 10.9 M1026.6 63.2 l8.9 12.3 M1026.6 65.5 l-6.9 8.3 M1026.6 65.5 l5.1 9.6 M1026.7 67.9 l-11.6 11.3 M1026.7 67.9 l12.0 10.9 M1026.8 71.0 l-9.9 9.7 M1026.8 71.0 l9.6 9.9 M1026.8 73.9 l-5.3 11.3 M1026.8 73.9 l6.1 10.8 M1026.9 76.4 l-5.8 11.1 M1026.9 76.4 l9.7 7.9 M1027.0 79.3 l-10.5 10.1 M1027.0 79.3 l7.9 12.3 M1027.1 82.5 l-8.2 13.8 M1027.1 82.5 l8.2 13.8 M1027.2 85.7 l-10.4 11.0 M1027.2 85.7 l9.2 12.0 M1027.2 88.6 l-4.4 7.5 M1027.2 88.6 l5.3 6.9 M1027.3 91.7 l-6.0 5.7 M1027.3 91.7 l3.9 7.3 M1027.4 95.0 l-6.4 6.6 M1027.4 95.0 l6.8 6.2 M1027.5 98.3 l-7.0 8.0 M1027.5 98.3 l6.0 8.7 M1027.6 101.5 l-5.6 5.5 M1027.6 101.5 l5.2 5.8 M1027.7 103.8 l-7.1 11.4 M1027.7 103.8 l6.5 11.7 M1027.8 106.3 l-3.6 5.9 M1027.8 106.3 l4.9 4.9 M1027.8 109.6 l-7.5 7.6 M1027.8 109.6 l7.8 7.2 M1027.9 112.7 l-4.4 7.6 M1027.9 112.7 l4.6 7.5 M1028.0 115.5 l-4.9 5.6 M1028.0 115.5 l4.4 6.0 M1028.1 118.4 l-5.8 7.3 M1028.1 118.4 l4.9 7.8 M1028.3 120.9 l-4.7 8.7 M1028.3 120.9 l6.9 7.0 M1028.4 124.3 l-5.7 5.4 M1028.4 124.3 l5.4 5.7 M1028.5 127.6 l-5.5 6.2 M1028.5 127.6 l5.9 5.9 M1028.7 130.0 l-4.9 6.4 M1028.7 130.0 l5.1 6.2 M1028.8 133.0 l-6.6 7.2 M1028.8 133.0 l7.2 6.5 M1028.9 135.4 l-5.3 6.6 M1028.9 135.4 l6.6 5.3 M1029.0 137.6 l-4.1 3.9 M1029.0 137.6 l3.4 4.5" stroke="#BEBEC2" stroke-width="1.1" fill="none" opacity="0.65" stroke-linecap="round"/>
<path d="M986.0 65.0 L985.0 100.0 L984.0 140.0" stroke="#BEBEC2" stroke-width="2.0" fill="none" opacity="0.65"/>
<path d="M986.0 65.0 l-9.2 12.2 M986.0 65.0 l8.7 12.5 M985.9 67.9 l-12.1 14.2 M985.9 67.9 l12.8 13.6 M985.8 70.4 l-10.6 11.7 M985.8 70.4 l10.6 11.7 M985.8 73.7 l-7.5 6.1 M985.8 73.7 l6.1 7.5 M985.7 76.2 l-6.4 11.2 M985.7 76.2 l6.4 11.2 M985.6 79.4 l-11.0 9.7 M985.6 79.4 l6.9 12.9 M985.5 81.7 l-7.4 8.9 M985.5 81.7 l7.7 8.7 M985.4 84.3 l-9.5 10.7 M985.4 84.3 l7.4 12.2 M985.4 87.4 l-5.7 6.4 M985.4 87.4 l4.1 7.5 M985.3 89.7 l-7.4 8.8 M985.3 89.7 l7.3 9.0 M985.2 92.4 l-10.7 10.1 M985.2 92.4 l6.9 13.0 M985.2 94.6 l-8.9 11.6 M985.2 94.6 l6.6 13.1 M985.1 97.1 l-6.5 10.5 M985.1 97.1 l6.8 10.4 M985.0 100.1 l-6.5 7.0 M985.0 100.1 l7.0 6.5 M984.9 103.2 l-7.5 8.2 M984.9 103.2 l5.9 9.5 M984.8 106.1 l-7.3 8.2 M984.8 106.1 l6.5 8.8 M984.8 109.2 l-5.4 5.5 M984.8 109.2 l5.7 5.2 M984.7 111.5 l-6.1 4.9 M984.7 111.5 l3.5 7.0 M984.6 114.7 l-4.6 8.3 M984.6 114.7 l6.1 7.3 M984.6 116.9 l-6.2 8.9 M984.6 116.9 l7.9 7.4 M984.5 120.1 l-3.9 5.1 M984.5 120.1 l3.0 5.6 M984.4 123.2 l-2.9 5.2 M984.4 123.2 l2.7 5.3 M984.3 126.4 l-3.7 5.3 M984.3 126.4 l3.7 5.3 M984.3 129.3 l-5.4 4.5 M984.3 129.3 l3.8 5.9 M984.2 132.1 l-4.9 7.4 M984.2 132.1 l4.3 7.8 M984.1 135.2 l-4.5 3.9 M984.1 135.2 l4.2 4.3 M984.1 137.9 l-2.9 5.0 M984.1 137.9 l4.1 4.1" stroke="#BEBEC2" stroke-width="1.1" fill="none" opacity="0.65" stroke-linecap="round"/>
<path d="M1048.0 60.0 L1049.0 100.0 L1050.0 135.0 L1052.0 170.0" stroke="#C2C2C6" stroke-width="2.0" fill="none" opacity="0.65"/>
<path d="M1048.0 60.0 l-6.2 11.3 M1048.0 60.0 l7.0 10.8 M1048.1 63.4 l-6.5 8.4 M1048.1 63.4 l7.2 7.9 M1048.2 66.5 l-7.8 11.5 M1048.2 66.5 l7.4 11.8 M1048.2 69.9 l-10.7 13.6 M1048.2 69.9 l9.5 14.4 M1048.3 73.3 l-5.2 9.4 M1048.3 73.3 l7.3 7.9 M1048.4 76.7 l-6.3 12.3 M1048.4 76.7 l10.7 8.7 M1048.5 79.3 l-8.7 7.7 M1048.5 79.3 l8.4 8.0 M1048.6 82.6 l-6.5 6.5 M1048.6 82.6 l5.5 7.3 M1048.6 85.1 l-10.9 10.2 M1048.6 85.1 l7.2 13.2 M1048.7 88.0 l-8.4 13.2 M1048.7 88.0 l8.9 12.9 M1048.8 91.3 l-8.7 7.7 M1048.8 91.3 l8.6 7.8 M1048.9 94.8 l-6.6 11.8 M1048.9 94.8 l9.3 9.7 M1048.9 97.9 l-7.1 9.0 M1048.9 97.9 l6.5 9.4 M1049.0 100.5 l-8.0 12.2 M1049.0 100.5 l7.3 12.6 M1049.1 104.1 l-7.3 8.5 M1049.1 104.1 l6.6 9.1 M1049.2 106.6 l-6.8 7.0 M1049.2 106.6 l5.5 8.1 M1049.3 110.1 l-6.7 6.5 M1049.3 110.1 l4.9 7.9 M1049.4 113.1 l-3.7 7.0 M1049.4 113.1 l5.1 6.0 M1049.5 115.9 l-5.2 9.2 M1049.5 115.9 l6.1 8.6 M1049.5 118.7 l-5.7 11.4 M1049.5 118.7 l7.8 10.1 M1049.6 122.1 l-5.2 8.9 M1049.6 122.1 l8.1 6.4 M1049.7 124.6 l-3.1 6.6 M1049.7 124.6 l4.5 5.7 M1049.8 128.1 l-4.2 6.9 M1049.8 128.1 l5.9 5.5 M1049.9 130.6 l-4.0 4.8 M1049.9 130.6 l3.1 5.4 M1050.0 133.6 l-4.3 5.3 M1050.0 133.6 l5.1 4.6 M1050.1 136.5 l-4.5 5.9 M1050.1 136.5 l5.4 5.2 M1050.2 139.0 l-3.7 6.0 M1050.2 139.0 l4.7 5.3 M1050.4 141.7 l-4.5 8.1 M1050.4 141.7 l7.2 5.8 M1050.5 144.5 l-2.8 6.1 M1050.5 144.5 l3.6 5.6 M1050.7 147.2 l-5.4 8.4 M1050.7 147.2 l6.4 7.7 M1050.9 150.7 l-6.7 7.6 M1050.9 150.7 l5.8 8.3 M1051.1 153.5 l-3.6 6.6 M1051.1 153.5 l4.6 6.0 M1051.2 156.2 l-4.0 4.6 M1051.2 156.2 l4.2 4.4 M1051.4 159.1 l-4.2 5.5 M1051.4 159.1 l5.0 4.9 M1051.5 161.5 l-4.7 7.1 M1051.5 161.5 l5.2 6.8 M1051.7 165.1 l-4.0 6.7 M1051.7 165.1 l3.9 6.8 M1051.9 168.0 l-3.3 5.3 M1051.9 168.0 l3.2 5.3" stroke="#C2C2C6" stroke-width="1.1" fill="none" opacity="0.65" stroke-linecap="round"/>
<path d="M962.0 90.0 L966.0 130.0 L970.0 160.0" stroke="#CCCCD0" stroke-width="2.0" fill="none" opacity="0.45"/>
<path d="M962.0 90.0 l-5.6 7.1 M962.0 90.0 l6.3 6.5 M962.3 93.1 l-6.6 11.0 M962.3 93.1 l7.1 10.7 M962.6 96.2 l-3.7 6.2 M962.6 96.2 l5.8 4.3 M963.0 100.2 l-4.5 10.1 M963.0 100.2 l6.7 8.8 M963.3 103.1 l-5.2 7.3 M963.3 103.1 l4.8 7.6 M963.7 106.5 l-5.3 7.3 M963.7 106.5 l7.1 5.6 M964.0 109.8 l-4.5 8.8 M964.0 109.8 l6.7 7.3 M964.3 113.3 l-3.4 5.3 M964.3 113.3 l4.4 4.6 M964.6 116.3 l-4.7 5.6 M964.6 116.3 l4.7 5.6 M964.9 119.2 l-4.0 6.2 M964.9 119.2 l4.8 5.5 M965.2 122.4 l-3.2 6.6 M965.2 122.4 l5.1 5.3 M965.6 125.9 l-3.3 4.8 M965.6 125.9 l3.7 4.5 M966.0 130.0 l-4.0 9.2 M966.0 130.0 l7.5 6.6 M966.4 133.1 l-3.5 4.3 M966.4 133.1 l4.6 3.1 M966.9 136.9 l-5.2 5.8 M966.9 136.9 l5.7 5.4 M967.4 140.5 l-4.8 5.9 M967.4 140.5 l6.2 4.5 M967.8 143.6 l-2.8 4.6 M967.8 143.6 l4.0 3.6 M968.2 146.8 l-5.0 6.2 M968.2 146.8 l6.1 5.1 M968.7 150.2 l-2.7 6.4 M968.7 150.2 l5.6 4.2 M969.1 153.1 l-4.1 6.3 M969.1 153.1 l4.9 5.7 M969.5 156.0 l-3.0 5.3 M969.5 156.0 l4.7 3.9 M969.8 158.8 l-3.3 6.0 M969.8 158.8 l4.8 4.9" stroke="#CCCCD0" stroke-width="1.1" fill="none" opacity="0.45" stroke-linecap="round"/>
</g>
</svg>
</div>
<div id="tblock"></div><div id="tstrip"></div>
<div class="title" style="top:61.02px;clip-path:polygon(0 0,675px 0,675px 100%,0 100%)">Which of the following services and amenities</div>
<div class="title" style="top:61.02px;clip-path:polygon(675px 0,1200px 0,1200px 100%,675px 100%);-webkit-text-stroke-color:#E2E2E6">Which of the following services and amenities</div>
<div class="title" style="top:112.02px;left:120px;letter-spacing:-1.15px">do you plan to offer?</div>
<div class="sq" style="left:314px;top:222px;background:#C87405"></div>
<div class="leg" style="left:334px;top:214.32px">Currently Have On-Site or Plan to Have</div>
<div class="sq" style="left:743px;top:222px;background:#426F75"></div>
<div class="leg" style="left:762px;letter-spacing:0.62px;top:214.32px">Needed, not planned</div>
<div id="axis"></div>
<div class="bar" style="left:586.0px;top:266.20px;width:239.20px;background:#C87405"></div>
<div class="bar" style="left:825.20px;top:266.20px;width:66.60px;background:#426F75"></div>
<div class="lab" style="top:266.88px;right:711.4px;transform:scaleX(1.014)">Food &amp; beverage services</div>
<div class="dl" style="left:757.20px;top:269.38px;color:#FFFFFF">59%</div>
<div class="dl" style="left:823.80px;top:269.38px;color:#FFFFFF">16%</div>
<div class="bar" style="left:586.0px;top:299.94px;width:82.10px;background:#FAC191"></div>
<div class="bar" style="left:668.10px;top:299.94px;width:65.65px;background:#80B2B7"></div>
<div class="lab" style="top:300.62px;right:711.4px;transform:scaleX(1.034)">On-site chef</div>
<div class="dl" style="left:600.10px;top:303.12px;color:#0F2A44">20%</div>
<div class="dl" style="left:665.75px;top:303.12px;color:#0F2A44">16%</div>
<div class="bar" style="left:586.0px;top:333.68px;width:157.10px;background:#FAC191"></div>
<div class="bar" style="left:743.10px;top:333.68px;width:57.80px;background:#80B2B7"></div>
<div class="lab" style="top:334.36px;right:711.4px;transform:scaleX(1.041)">Breakfast only</div>
<div class="dl" style="left:675.10px;top:336.86px;color:#0F2A44">39%</div>
<div class="dl" style="left:732.90px;top:336.86px;color:#0F2A44">14%</div>
<div class="bar" style="left:586.0px;top:367.42px;width:139.90px;background:#FAC191"></div>
<div class="bar" style="left:725.90px;top:367.42px;width:57.85px;background:#80B2B7"></div>
<div class="lab" style="top:368.10px;right:711.4px;transform:scaleX(1.073)">Partner with outside provider</div>
<div class="dl" style="left:657.90px;top:370.60px;color:#0F2A44">35%</div>
<div class="dl" style="left:715.75px;top:370.60px;color:#0F2A44">14%</div>
<div class="bar" style="left:586.0px;top:401.16px;width:314.00px;background:#C87405"></div>
<div class="bar" style="left:900.00px;top:401.16px;width:7.60px;background:#426F75"></div>
<div class="lab" style="top:401.84px;right:711.4px;transform:scaleX(1.036)">Off-site access to recreation</div>
<div class="dl" style="left:832.00px;top:404.34px;color:#FFFFFF">78%</div>
<div class="dl" style="left:839.60px;top:404.34px;color:#FFFFFF">2%</div>
<div class="bar" style="left:586.0px;top:434.90px;width:306.20px;background:#C87405"></div>
<div class="bar" style="left:892.20px;top:434.90px;width:15.40px;background:#426F75"></div>
<div class="lab" style="top:435.58px;right:711.4px;transform:scaleX(1.055)">On-site recreation</div>
<div class="dl" style="left:824.20px;top:438.08px;color:#FFFFFF">76%</div>
<div class="dl" style="left:839.60px;top:438.08px;color:#FFFFFF">4%</div>
<div class="bar" style="left:586.0px;top:468.64px;width:273.00px;background:#C87405"></div>
<div class="bar" style="left:859.00px;top:468.64px;width:23.90px;background:#426F75"></div>
<div class="lab" style="top:469.32px;right:711.4px;transform:scaleX(1.048)">Swimming pool, hot tub, sauna, etc</div>
<div class="dl" style="left:791.00px;top:471.82px;color:#FFFFFF">67%</div>
<div class="dl" style="left:814.90px;top:471.82px;color:#FFFFFF">6%</div>
<div class="bar" style="left:586.0px;top:502.38px;width:248.00px;background:#C87405"></div>
<div class="bar" style="left:834.00px;top:502.38px;width:48.90px;background:#426F75"></div>
<div class="lab" style="top:503.06px;right:696.9px;transform:scaleX(1.012)">Educational guided services (e g , foraging,&hellip;</div>
<div class="dl" style="left:766.00px;top:505.56px;color:#FFFFFF">61%</div>
<div class="dl" style="left:814.90px;top:505.56px;color:#FFFFFF">12%</div>
<div class="bar" style="left:586.0px;top:536.12px;width:239.30px;background:#C87405"></div>
<div class="bar" style="left:825.30px;top:536.12px;width:82.30px;background:#426F75"></div>
<div class="lab" style="top:536.80px;right:711.4px;transform:scaleX(1.046)">Group facilities</div>
<div class="dl" style="left:757.30px;top:539.30px;color:#FFFFFF">59%</div>
<div class="dl" style="left:839.60px;top:539.30px;color:#FFFFFF">20%</div>
<div class="bar" style="left:586.0px;top:569.86px;width:230.90px;background:#C87405"></div>
<div class="bar" style="left:816.90px;top:569.86px;width:42.00px;background:#426F75"></div>
<div class="lab" style="top:570.54px;right:711.4px;transform:scaleX(1.000)">Camp Store</div>
<div class="dl" style="left:748.90px;top:573.04px;color:#FFFFFF">57%</div>
<div class="dl" style="left:790.90px;top:573.04px;color:#FFFFFF">10%</div>
<div class="bar" style="left:586.0px;top:603.60px;width:215.00px;background:#C87405"></div>
<div class="bar" style="left:801.00px;top:603.60px;width:74.10px;background:#426F75"></div>
<div class="lab" style="top:604.28px;right:711.4px;transform:scaleX(1.013)">On-site wellness (e g , massage, yoga, etc )</div>
<div class="dl" style="left:733.00px;top:606.78px;color:#FFFFFF">53%</div>
<div class="dl" style="left:807.10px;top:606.78px;color:#FFFFFF">18%</div>
<div class="bar" style="left:586.0px;top:637.34px;width:206.10px;background:#C87405"></div>
<div class="bar" style="left:792.10px;top:637.34px;width:49.80px;background:#426F75"></div>
<div class="lab" style="top:638.02px;right:711.4px;transform:scaleX(0.993)">Pet area</div>
<div class="dl" style="left:724.10px;top:640.52px;color:#FFFFFF">51%</div>
<div class="dl" style="left:773.90px;top:640.52px;color:#FFFFFF">12%</div>
<div class="bar" style="left:586.0px;top:671.08px;width:190.10px;background:#C87405"></div>
<div class="bar" style="left:776.10px;top:671.08px;width:32.80px;background:#426F75"></div>
<div class="lab" style="top:671.76px;right:711.4px;transform:scaleX(0.966)">Lodge</div>
<div class="dl" style="left:708.10px;top:674.26px;color:#FFFFFF">47%</div>
<div class="dl" style="left:740.90px;top:674.26px;color:#FFFFFF">8%</div>
<div id="logo"><svg style="position:absolute;left:1040px;top:0" width="240" height="240" viewBox="1040 0 240 240">
<circle cx="1164" cy="116" r="117.5" fill="#fff"/>
<rect x="1164" y="0" width="116" height="116" fill="#fff"/>
<!-- orange speech bubble -->
<path d="M1155.3 34.4 A11 11 0 1 0 1144.3 45.4 L1155.3 45.4 Z" fill="#EA8B2C"/>
<circle cx="1143.9" cy="34.5" r="8.4" fill="#fff"/>
<circle cx="1140.1" cy="34.7" r="0.95" fill="#EA8B2C"/>
<circle cx="1143.9" cy="34.7" r="0.95" fill="#EA8B2C"/>
<circle cx="1147.8" cy="34.7" r="0.95" fill="#EA8B2C"/>
<!-- teal -->
<path d="M1126.6 46.7 L1155.5 46.7 L1155.5 68.6 L1126.6 68.6 A10.95 10.95 0 0 1 1126.6 46.7 Z" fill="#457A7E"/>
<circle cx="1127.3" cy="57.7" r="8.6" fill="#fff"/>
<path d="M1122.8 58.2 L1126.5 61.6 L1132.0 54.8" fill="none" stroke="#457A7E" stroke-width="1.7" stroke-linecap="round" stroke-linejoin="round"/>
<!-- navy -->
<path d="M1110.5 70 L1155.5 70 L1155.5 84.2 A8 8 0 0 1 1147.5 92.2 L1110.5 92.2 A11.1 11.1 0 0 1 1110.5 70 Z" fill="#1B3175"/>
<rect x="1102.3" y="72.5" width="34" height="17.6" rx="8.8" fill="#fff"/>
<circle cx="1111.1" cy="81.3" r="6" fill="#1B3175"/>
<g font-family="Liberation Sans" font-weight="bold" font-size="26.4" stroke-width="0.45">
<text x="1156.8" y="45.6" fill="#EA8B2C" stroke="#EA8B2C" textLength="42" lengthAdjust="spacingAndGlyphs">CAIRN</text>
<text x="1156.8" y="67" fill="#457A7E" stroke="#457A7E" textLength="86" lengthAdjust="spacingAndGlyphs">CONSULTING</text>
<text x="1156.8" y="88.4" fill="#1B3175" stroke="#1B3175" textLength="46.5" lengthAdjust="spacingAndGlyphs">GROUP</text>
</g>
<!-- glamping -->
<g font-family="Liberation Sans" font-weight="bold" font-size="21.8" fill="#8DAB57" stroke="#8DAB57" stroke-width="0.7">
<text x="1089.6" y="140.7" textLength="143" lengthAdjust="spacingAndGlyphs" letter-spacing="2.2">GL&#923;MPING</text>
</g>
<path d="M1133.8 125 L1133.8 119.5 M1133.8 125 L1131.3 120.3 M1133.8 125 L1136.3 120.3" stroke="#8DAB57" stroke-width="1" fill="none"/>
<g font-family="Liberation Sans" font-size="12.4">
<text x="1104.2" y="153.1" textLength="116.8" lengthAdjust="spacingAndGlyphs" letter-spacing="0.3"><tspan fill="#3B3F5E">SHOW</tspan><tspan fill="#9CB46C">AMERICAS</tspan></text>
</g>
</svg>
</div>
<div id="pn">30</div>
</body></html>
